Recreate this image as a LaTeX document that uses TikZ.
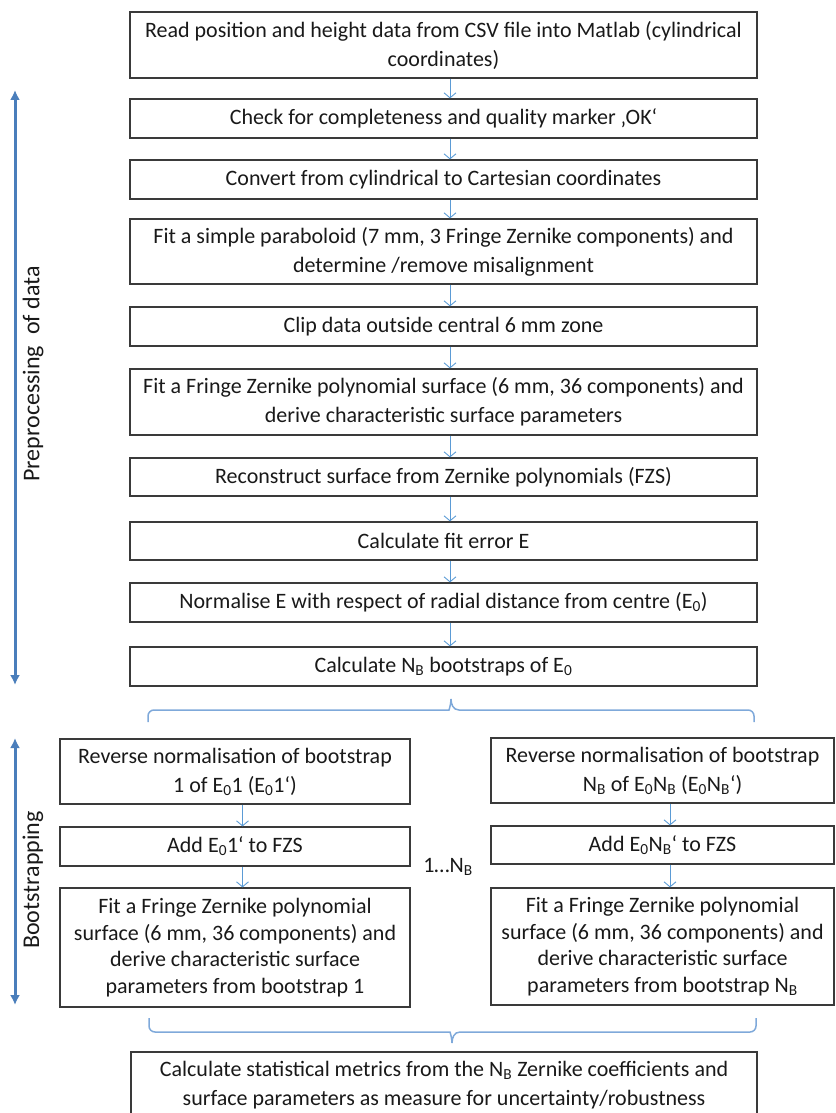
\documentclass[tikz,border=0pt]{standalone}
\usepackage{fontspec}
\setmainfont{Carlito}
\usetikzlibrary{arrows.meta}
\definecolor{boxline}{HTML}{3A3A3A}
\definecolor{flowblue}{HTML}{5B9BD5}
\definecolor{phaseblue}{HTML}{4A7EBB}
\definecolor{braceblue}{HTML}{7FA9DA}
\newcommand{\Nb}{N\textsubscript{B}}
\newcommand{\Ez}{E\textsubscript{0}}

\begin{document}
\begin{tikzpicture}[
  x=1pt, y=-1pt,
  stepbox/.style={draw=boxline,line width=1.2pt,align=center,inner sep=0pt,
    font=\fontsize{22}{29}\selectfont,text=black!90},
  mainbox/.style={stepbox,minimum width=627pt},
  leftbox/.style={stepbox,minimum width=350pt},
  rightbox/.style={stepbox,minimum width=343pt},
  tallbox/.style={font=\fontsize{22}{26.7}\selectfont},
  flow/.style={flowblue,line width=0.9pt,-{Straight Barb[length=5pt,width=12pt]}},
  phase/.style={phaseblue,line width=3pt,{Latex[length=10pt,width=10pt]}-{Latex[length=10pt,width=10pt]}},
  phaselabel/.style={rotate=90,font=\fontsize{24}{29}\selectfont,text=black!90},
  braceline/.style={braceblue,line width=1.5pt},
]
\useasboundingbox (0,0) rectangle (835,1113);

% ===================================================================
% Preprocessing chain
% ===================================================================
\node[mainbox,minimum height=66pt] (read) at (443.5,45)
  {Read position and height data from CSV file into Matlab (cylindrical\\coordinates)};
\node[mainbox,minimum height=39pt] (check) at (443.5,118.5)
  {Check for completeness and quality marker ‚OK‘};
\node[mainbox,minimum height=39pt] (convert) at (443.5,179.5)
  {Convert from cylindrical to Cartesian coordinates};
\node[mainbox,minimum height=65pt] (parab) at (443.5,251.5)
  {Fit a simple paraboloid (7 mm, 3 Fringe Zernike components) and\\determine /remove misalignment};
\node[mainbox,minimum height=39pt] (clip) at (443.5,326.5)
  {Clip data outside central 6 mm zone};
\node[mainbox,minimum height=66pt] (fitfzp) at (443.5,402)
  {Fit a Fringe Zernike polynomial surface (6 mm, 36 components) and\\derive characteristic surface parameters};
\node[mainbox,minimum height=38pt] (recon) at (443.5,477)
  {Reconstruct surface from Zernike polynomials (FZS)};
\node[mainbox,minimum height=38pt] (fiterr) at (443.5,541)
  {Calculate fit error E};
\node[mainbox,minimum height=39pt] (norm) at (443.5,602.5)
  {Normalise E with respect of radial distance from centre (\Ez)};
\node[mainbox,minimum height=39pt] (boot) at (443.5,666.5)
  {Calculate \Nb{} bootstraps of \Ez};

\foreach \a/\b in {read/check,check/convert,convert/parab,parab/clip,clip/fitfzp,
                   fitfzp/recon,recon/fiterr,fiterr/norm,norm/boot}
  \draw[flow] ([xshift=6.5pt]\a.south) -- ([xshift=6.5pt]\b.north);

% ===================================================================
% Bootstrap branches
% ===================================================================
\node[leftbox,minimum height=65pt] (rev1) at (235,771.5)
  {Reverse normalisation of bootstrap\\1 of \Ez1 (\Ez1‘)};
\node[leftbox,minimum height=39pt] (add1) at (235,846.5)
  {Add \Ez1‘ to FZS};
\node[leftbox,tallbox,minimum height=119pt] (fit1) at (235,947.5)
  {Fit a Fringe Zernike polynomial\\surface (6 mm, 36 components) and\\derive characteristic surface\\parameters from bootstrap 1};

\node[rightbox,minimum height=65pt] (revn) at (662.5,770.5)
  {Reverse normalisation of bootstrap\\\Nb{} of \Ez\Nb{} (\Ez\Nb‘)};
\node[rightbox,minimum height=38pt] (addn) at (662.5,845)
  {Add \Ez\Nb‘ to FZS};
\node[rightbox,tallbox,minimum height=117pt] (fitn) at (662.5,946.5)
  {Fit a Fringe Zernike polynomial\\surface (6 mm, 36 components) and\\derive characteristic surface\\parameters from bootstrap \Nb};

\foreach \a/\b in {rev1/add1,add1/fit1,revn/addn,addn/fitn}
  \draw[flow] ([xshift=7.5pt]\a.south) -- ([xshift=7.5pt]\b.north);

\node[font=\fontsize{22}{29}\selectfont,text=black!90] (range) at (448,867) {1…\Nb};

% braces: split after bootstraps, merge before statistics
\draw[braceline] (148,722) [rounded corners=6pt] |- (443,710) [sharp corners]
  .. controls (449,710) and (451,704) .. (451,699)
  .. controls (451,704) and (453,710) .. (459,710) [rounded corners=6pt] -| (754,722);
\draw[braceline] (149,1018) [rounded corners=6pt] |- (444,1032) [sharp corners]
  .. controls (450,1032) and (452,1038) .. (452,1043)
  .. controls (452,1038) and (454,1032) .. (460,1032) [rounded corners=6pt] -| (756,1018);

\node[mainbox,minimum width=626pt,minimum height=66pt] (stats) at (444,1085)
  {Calculate statistical metrics from the \Nb{} Zernike coefficients and\\surface parameters as measure for uncertainty/robustness};

% ===================================================================
% Phase arrows on the left
% ===================================================================
\draw[phase] (15,90) -- (15,685);
\draw[phase] (15,738) -- (15,1005);
\node[phaselabel] (prelabel) at (33,374) {Preprocessing\ \ of data};
\node[phaselabel] (bootlabel) at (33,880) {Bootstrapping};

\end{tikzpicture}
\end{document}
